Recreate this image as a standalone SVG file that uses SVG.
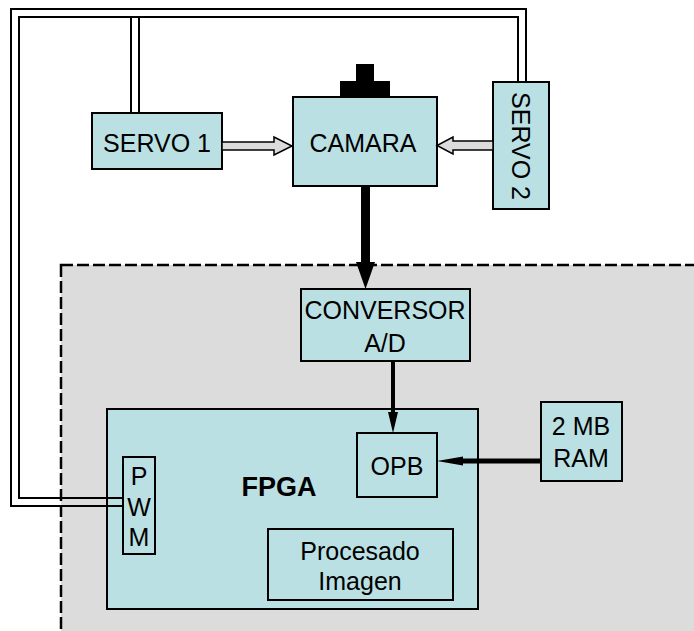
<svg xmlns="http://www.w3.org/2000/svg" width="694" height="631" viewBox="0 0 694 631">
  <style>
    .box { fill: #bae0e3; stroke: #000; stroke-width: 2; }
    .lbl { font-family: "Liberation Sans", Arial, sans-serif; font-size: 25px; fill: #000; text-anchor: middle; }
    .wire { fill: none; stroke: #000; stroke-width: 2; }
    .hollow { fill: #dcdcdc; stroke: #000; stroke-width: 1.5; stroke-linejoin: miter; }
  </style>
  <rect width="694" height="631" fill="#fff"/>

  <!-- FPGA board area -->
  <g id="board">
    <rect x="61" y="265" width="650" height="380" fill="#dcdcdc" stroke="#000" stroke-width="2.5" stroke-dasharray="12,4"/>
  </g>

  <g id="servo1">
    <rect class="box" x="92" y="113" width="130" height="56"/>
    <text class="lbl" x="157" y="152">SERVO 1</text>
  </g>

  <g id="camara">
    <rect x="340" y="81" width="50" height="17" fill="#000"/>
    <rect x="356" y="64" width="18" height="18" fill="#000"/>
    <rect class="box" x="293" y="97" width="144" height="89"/>
    <text class="lbl" x="363" y="152">CAMARA</text>
  </g>

  <g id="servo2">
    <rect class="box" x="493" y="82" width="56" height="127"/>
    <text class="lbl" transform="translate(512,146) rotate(90)">SERVO 2</text>
  </g>

  <g id="conversor">
    <rect class="box" x="301" y="289" width="169" height="72"/>
    <text class="lbl" x="385" y="319">CONVERSOR</text>
    <text class="lbl" x="385" y="352">A/D</text>
  </g>

  <g id="fpga">
    <rect class="box" x="107" y="409" width="371" height="200"/>
    <text class="lbl" x="279" y="496" style="font-weight:bold;font-size:27px">FPGA</text>
  </g>

  <g id="pwm">
    <rect class="box" x="123" y="457" width="32" height="97"/>
    <text class="lbl" x="139" y="485">P</text>
    <text class="lbl" x="139" y="516">W</text>
    <text class="lbl" x="139" y="546">M</text>
  </g>

  <g id="opb">
    <rect class="box" x="357" y="433" width="80" height="64"/>
    <text class="lbl" x="397" y="475">OPB</text>
  </g>

  <g id="procesado">
    <rect class="box" x="268" y="529" width="185" height="71"/>
    <text class="lbl" x="360" y="560">Procesado</text>
    <text class="lbl" x="360" y="590">Imagen</text>
  </g>

  <g id="ram">
    <rect class="box" x="541" y="402" width="81" height="79"/>
    <text class="lbl" x="581" y="435">2 MB</text>
    <text class="lbl" x="581" y="467">RAM</text>
  </g>

  <!-- connectors -->
  <g id="connectors">
    <!-- PWM control wires to the two servos -->
    <path class="wire" d="M123,506 H11 V9 H526 V82"/>
    <path class="wire" d="M123,498 H19 V17 H518 V82"/>
    <path class="wire" d="M131,17 V113 M139,17 V113"/>
    <!-- servo 1 to camera -->
    <path class="hollow" d="M222,142 H274 V137 L292,146 L274,155 V150 H222 Z"/>
    <!-- servo 2 to camera -->
    <path class="hollow" d="M493,141 H453 V137 L437,145.5 L453,154 V150 H493 Z"/>
    <!-- camera to converter -->
    <path d="M361,186 H370 V262 H375 L365.5,289 L356,262 H361 Z" fill="#000"/>
    <!-- converter to OPB -->
    <path d="M391,362 H395 V412 H398 L393,433 L388,412 H391 Z" fill="#000"/>
    <!-- RAM to OPB -->
    <path d="M541,458.5 V463.5 H463 V465.5 L437,461 L463,456.5 V458.5 Z" fill="#000"/>
  </g>
</svg>
